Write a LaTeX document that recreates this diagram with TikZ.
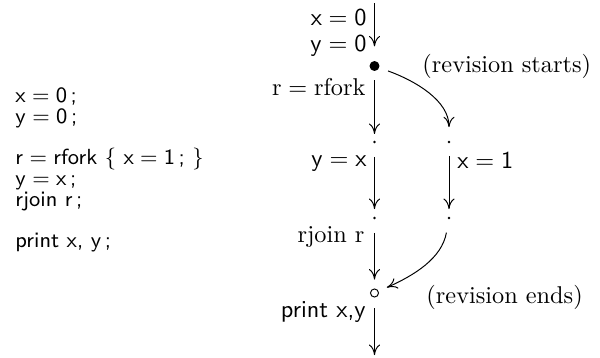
\documentclass[tikz,border=0pt]{standalone}
\usetikzlibrary{arrows.meta}
\begin{document}
\begin{tikzpicture}[x=0.4115pt,y=0.4115pt,
  bigdot/.style={circle,fill,inner sep=0pt,minimum size=4.1pt},
  smalldot/.style={circle,fill,inner sep=0pt,minimum size=1.2pt},
  opendot/.style={circle,draw,inner sep=0pt,minimum size=3.3pt},
  lbl/.style={inner sep=0pt,anchor=base east},
  rlbl/.style={inner sep=0pt,anchor=base west},
  code/.style={inner sep=0pt,anchor=base west,font=\small},
  flow/.style={-{To[length=4.3pt,width=4.6pt]}}]
\useasboundingbox (0,0) rectangle (600,357);
% graph nodes
\coordinate (top) at (374.5,354);
\node[bigdot] (n0) at (374.5,291) {};
\node[smalldot] (d1) at (374.5,215) {};
\node[smalldot] (d2) at (374.5,139) {};
\node[opendot] (c) at (374.5,64) {};
\coordinate (bot) at (374.5,2);
\node[smalldot] (r1) at (449,215) {};
\node[smalldot] (r2) at (449,139) {};
% connectors
\draw[flow,shorten >=5.8pt] (top) -- (n0);
\draw[flow,shorten <=3.7pt,shorten >=2.5pt] (n0) -- (d1);
\draw[flow,shorten <=5.3pt,shorten >=2.9pt] (d1) -- (d2);
\draw[flow,shorten <=5.3pt,shorten >=3.7pt] (d2) -- (c);
\draw[flow,shorten <=4.5pt] (c) -- (bot);
\draw[flow,shorten <=3.7pt,shorten >=5.3pt] (n0) to[out=-20,in=90] (r1);
\draw[flow,shorten <=4.9pt,shorten >=2.9pt] (r1) -- (r2);
\draw[flow,shorten <=5.3pt,shorten >=3.7pt] (r2) to[out=-100,in=24] (c);
% labels
\node[lbl] (l1) at (367,332) {$\mathsf{x = 0}$};
\node[lbl] (l2) at (367,306) {$\mathsf{y = 0}$};
\node[lbl] (l3) at (366,262) {$\mathrm{r = rfork}$};
\node[lbl] (l4) at (367,191) {$\mathsf{y = x}$};
\node[lbl] (l5) at (365,115) {rjoin r};
\node[lbl] (l6) at (366,40) {\textsf{print x,y}};
\node[rlbl] (l7) at (457,189) {$\mathsf{x = 1}$};
\node[rlbl] (l8) at (422,285) {(revision starts)};
\node[rlbl] (l9) at (426,54) {(revision ends)};
% code
\node[code] (c1) at (15,255) {$\mathsf{x = 0}$\,\textsf{;}};
\node[code] (c2) at (15,234) {$\mathsf{y = 0}$\,\textsf{;}};
\node[code] (c3) at (15,193) {$\mathsf{r = rfork}\ \{\ \mathsf{x = 1}$\,\textsf{;} $\}$};
\node[code] (c4) at (15,172) {$\mathsf{y = x}$\,\textsf{;}};
\node[code] (c5) at (15,151) {\textsf{rjoin r}\,\textsf{;}};
\node[code] (c6) at (15,110) {\textsf{print x, y}\,\textsf{;}};
\end{tikzpicture}
\end{document}
